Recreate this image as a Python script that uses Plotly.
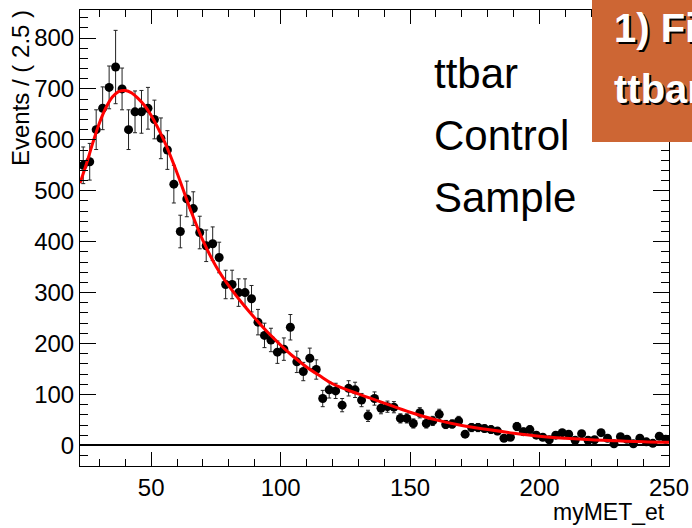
import plotly.graph_objects as go

# ---- data ----
bin_centers = [23.75 + 2.5 * i for i in range(91)]
events = [550, 557, 620, 662, 703, 743, 700, 620, 655, 655,
          662, 640, 603, 580, 513, 420, 484, 465, 418, 392,
          396, 369, 316, 316, 300, 300, 288, 242, 216, 207,
          183, 189, 232, 164, 145, 171, 149, 92, 109, 107,
          79, 112, 109, 89, 58, 92, 73, 76, 75, 53,
          53, 43, 64, 43, 48, 61, 41, 42, 48, 22,
          35, 35, 33, 31, 28, 14, 16, 37, 27, 31,
          20, 16, 11, 20, 25, 22, 10, 23, 10, 11,
          25, 14, 3, 17, 12, 3, 14, 7, 4, 18,
          12]
errors = [36, 36, 39, 42, 42, 72, 41, 39, 41, 42,
          41, 38, 40, 38, 37, 32, 35, 33, 32, 31,
          33, 30, 28, 28, 27, 27, 26, 25, 24, 23,
          22, 22, 25, 21, 18, 20, 19, 16, 16, 15,
          13, 15, 15, 13, 11, 13, 11, 11, 11, 9,
          9, 9, 10, 9, 9, 10, 8, 8, 9, 6,
          8, 8, 7, 7, 7, 5, 5, 8, 7, 7,
          6, 5, 4, 6, 6, 6, 4, 6, 4, 4,
          6, 5, 2, 5, 4, 2, 5, 3, 2, 5,
          4]

fit_x = [22.5, 25, 27.5, 30, 32.5, 35, 37.5, 40, 42.5, 45, 47.5, 50, 55, 60,
         65, 70, 75, 80, 85, 90, 95, 100, 105, 110, 115, 120, 130, 140, 150,
         160, 170, 180, 190, 200, 210, 220, 230, 240, 250]
fit_y = [515, 553, 595, 633, 663, 684, 695, 697, 692, 681, 667, 648, 598, 535,
         465, 402, 352, 313, 280, 250, 222, 197, 174, 154, 137, 121, 101, 83, 65,
         50, 39, 31, 24, 18, 14, 11, 9, 7, 6]

x_ticks = [50, 100, 150, 200, 250]
y_ticks = [0, 100, 200, 300, 400, 500, 600, 700, 800]
labels_text = ["ttbar", "Control", "Sample"]
banner_text = ["1) Fit", "ttbar"]

# ---- layout geometry (pixels) ----
W, H = 692, 528
L, R, T, B = 80, 669, 10, 466


def px(xp):
    return (xp - L) / (R - L)


def py(yp):
    return (B - yp) / (B - T)


FONT = "Liberation Sans, Arial, Helvetica, sans-serif"

fig = go.Figure()

fig.add_trace(go.Scatter(
    x=bin_centers, y=events, mode="markers",
    marker=dict(color="black", size=9),
    error_y=dict(type="data", array=errors, color="#222222", thickness=1, width=2),
    showlegend=False, hoverinfo="skip"))

fig.add_trace(go.Scatter(
    x=fit_x, y=fit_y, mode="lines",
    line=dict(color="red", width=3, shape="spline", smoothing=1.0),
    showlegend=False, hoverinfo="skip"))

fig.update_layout(
    width=W, height=H,
    margin=dict(l=L, r=W - R, t=T, b=H - B, pad=0, autoexpand=False),
    paper_bgcolor="white", plot_bgcolor="white",
    font=dict(family=FONT, color="black", size=24),
    showlegend=False,
    xaxis=dict(range=[22.5, 250], tickvals=x_ticks, ticks="inside", ticklen=14,
               tickwidth=1, tickcolor="black", showline=True, linecolor="black",
               linewidth=1, mirror="allticks", showgrid=False, zeroline=False,
               automargin=False,
               tickfont=dict(size=24, family=FONT),
               minor=dict(dtick=10, tick0=0, ticks="inside", ticklen=7,
                          tickcolor="black", tickwidth=1, showgrid=False)),
    yaxis=dict(range=[-40.5, 855], tickvals=y_ticks, ticks="inside", ticklen=16,
               tickwidth=1, tickcolor="black", showline=True, linecolor="black",
               linewidth=1, mirror="allticks", showgrid=False,
               zeroline=True, zerolinecolor="black", zerolinewidth=2,
               automargin=False,
               tickfont=dict(size=24, family=FONT),
               minor=dict(dtick=20, tick0=0, ticks="inside", ticklen=8,
                          tickcolor="black", tickwidth=1, showgrid=False)),
)

ann = []
# axis titles
ann.append(dict(text="Events / ( 2.5 )", xref="paper", yref="paper", x=0, y=1,
                xshift=-60, yshift=2, xanchor="center", yanchor="top",
                textangle=-90, showarrow=False, font=dict(size=24, family=FONT)))
ann.append(dict(text="myMET_et", xref="paper", yref="paper", x=1, y=0,
                xshift=-2, yshift=-46, xanchor="right", yanchor="middle",
                showarrow=False, font=dict(size=23, family=FONT)))
# in-plot labels
for i, t in enumerate(labels_text):
    ann.append(dict(text=t, xref="paper", yref="paper", x=px(432), y=py(73 + 62 * i),
                    xanchor="left", yanchor="middle", showarrow=False,
                    font=dict(size=42, family=FONT)))

# banner box
shapes = [dict(type="rect", xref="paper", yref="paper", x0=px(592), x1=px(760),
               y0=py(142), y1=py(-20), fillcolor="#CD6634", line=dict(width=0),
               layer="above")]
for i, t in enumerate(banner_text):
    yc = 28 + 61 * i
    ann.append(dict(text="<b>%s</b>" % t, xref="paper", yref="paper", x=px(612), y=py(yc),
                    xshift=2, yshift=-2, xanchor="left", yanchor="middle", showarrow=False,
                    font=dict(size=40, family=FONT, color="black")))
    ann.append(dict(text="<b>%s</b>" % t, xref="paper", yref="paper", x=px(612), y=py(yc),
                    xanchor="left", yanchor="middle", showarrow=False,
                    font=dict(size=40, family=FONT, color="white")))

fig.update_layout(annotations=ann, shapes=shapes)
fig.write_html("out.html")
